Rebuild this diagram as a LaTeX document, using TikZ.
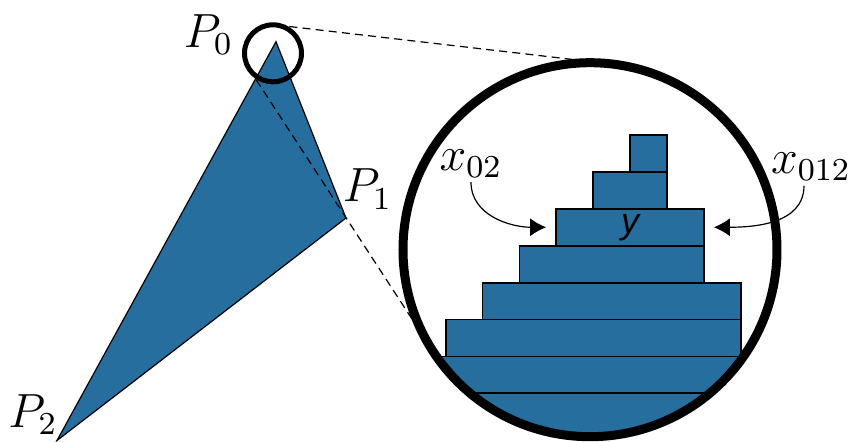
\documentclass[tikz,border=0pt]{standalone}
\usepackage{fontspec}
\newfontfamily\rowfont{Liberation Sans}
\usetikzlibrary{arrows.meta}
\definecolor{stairblue}{RGB}{38,110,158}
\begin{document}
\begin{tikzpicture}[x=0.25pt,y=0.25pt,
  lab/.style={inner sep=1pt, font=\large},
  stair/.style={draw, line width=0.45pt, fill=stairblue},
  tangent/.style={dash pattern=on 2pt off 1.3pt, line width=0.3pt},
  callout/.style={-{Latex[length=4pt,width=4.5pt]}, line width=0.3pt}]
\useasboundingbox (0,0) rectangle (849,441);
\coordinate (P0) at (276,399.3);
\coordinate (P1) at (346,223);
\coordinate (P2) at (57,0.5);
\fill[stairblue, draw=black, line width=0.3pt] (P0) -- (P1) -- (P2) -- cycle;
\node[lab] (p0) at (208.5,406.5) {$P_0$};
\node[lab] (p1) at (367.5,252) {$P_1$};
\node[lab] (p2) at (33,26) {$P_2$};
\coordinate (lens) at (273,387.7);
\coordinate (zoom) at (590,191.3);
\coordinate (t1) at ([shift={(83.4:28.5)}]lens);
\coordinate (T1) at ([shift={(83.4:187)}]zoom);
\coordinate (t2) at ([shift={(-146.9:28.5)}]lens);
\coordinate (T2) at ([shift={(-146.9:187)}]zoom);
\draw[tangent] (t1) -- (T1);
\draw[tangent] (t2) -- (T2);
\draw[line width=1.25pt] (lens) circle (28.5);
\begin{scope}
\clip (zoom) circle (187);
\foreach \r/\a/\b in {0/5/6,1/4/6,3/2/7,4/1/8,5/0/8,6/-2/10}
  \draw[stair] (445.7+36.9*\a,306-36.9*\r) rectangle (445.7+36.9*\b,269.1-36.9*\r);
\draw[stair] (372,47.7) rectangle (815,-60);
\node[stair, minimum width=36.9pt, minimum height=9.225pt, inner sep=0pt,
  font=\small\rowfont\itshape] (yrow) at (630.2,213.75) {y};
\end{scope}
\draw[line width=2.25pt] (zoom) circle (187);
\node[lab] (x02) at (471,277.7) {$x_{02}$};
\node[lab] (x012) at (811,274) {$x_{012}$};
\draw[callout] (x02.south) to[out=-90,in=180] ([xshift=-2.35pt]yrow.west);
\draw[callout] ([xshift=-1.75pt]x012.south) to[out=-90,in=0] ([xshift=2.25pt]yrow.east);
\end{tikzpicture}
\end{document}
